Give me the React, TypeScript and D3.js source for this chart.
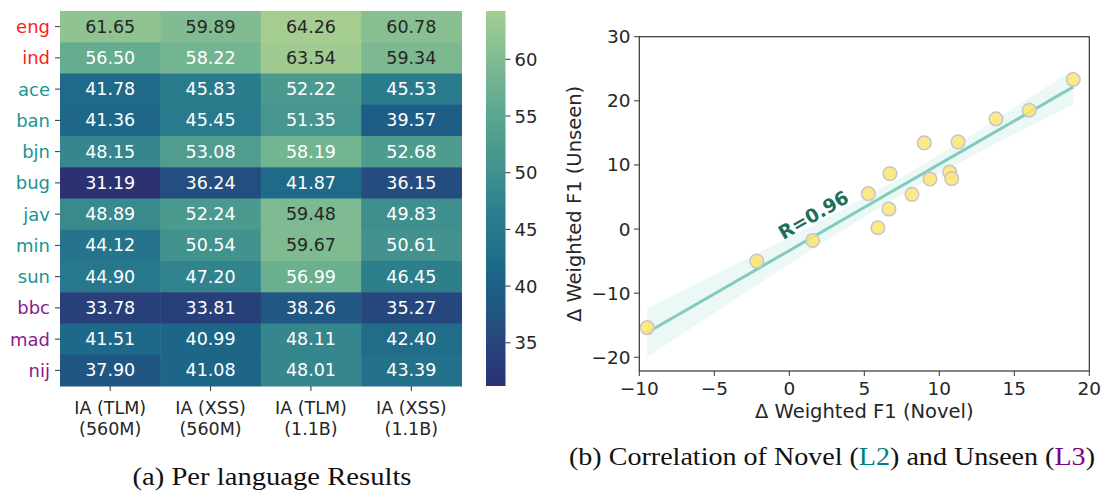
import React from "react";
import * as d3 from "d3";

// ---------- Heatmap data ----------
const LANGS = ["eng", "ind", "ace", "ban", "bjn", "bug", "jav", "min", "sun", "bbc", "mad", "nij"];
const LANG_GROUP = ["L1", "L1", "L2", "L2", "L2", "L2", "L2", "L2", "L2", "L3", "L3", "L3"];
const MODEL_LINE1 = ["IA (TLM)", "IA (XSS)", "IA (TLM)", "IA (XSS)"];
const MODEL_LINE2 = ["(560M)", "(560M)", "(1.1B)", "(1.1B)"];
const TLM_560M = [61.65, 56.5, 41.78, 41.36, 48.15, 31.19, 48.89, 44.12, 44.9, 33.78, 41.51, 37.9];
const XSS_560M = [59.89, 58.22, 45.83, 45.45, 53.08, 36.24, 52.24, 50.54, 47.2, 33.81, 40.99, 41.08];
const TLM_1B = [64.26, 63.54, 52.22, 51.35, 58.19, 41.87, 59.48, 59.67, 56.99, 38.26, 48.11, 48.01];
const XSS_1B = [60.78, 59.34, 45.53, 39.57, 52.68, 36.15, 49.83, 50.61, 46.45, 35.27, 42.4, 43.39];
const CBAR_TICKS = [35, 40, 45, 50, 55, 60];
// seaborn "crest" reversed (low -> high)
const CREST_R = ["#2c3172", "#254b7f", "#1c6488", "#287a8c", "#40908e", "#59a590", "#7dba91", "#a5cd90"];

// ---------- Scatter data ----------
const NOVEL = [18.93, 16.0, 13.78, 9.0, 11.25, 6.71, 10.69, 10.83, 9.38, 5.27, 8.18, 6.64, 5.91, 1.56, -2.17, -9.47];
const UNSEEN = [23.33, 18.53, 17.19, 13.44, 13.6, 8.64, 8.9, 7.86, 7.81, 5.52, 5.41, 3.12, 0.2, -1.78, -5.0, -15.37];
const X_TICKS = [-10, -5, 0, 5, 10, 15, 20];
const Y_TICKS = [-20, -10, 0, 10, 20, 30];
const R_LABEL = "R=0.96";
const R_POS = { x: 1.6, y: 2.25 };

const GROUP_COLOR: Record<string, string> = { L1: "#ff1a1a", L2: "#1a9494", L3: "#8b1a8b" };
const FONT = "DejaVu Sans, sans-serif";

function lum(c: string) {
  const rgb = d3.rgb(c);
  const f = (v: number) => {
    const s = v / 255;
    return s <= 0.03928 ? s / 12.92 : Math.pow((s + 0.055) / 1.055, 2.4);
  };
  return 0.2126 * f(rgb.r) + 0.7152 * f(rgb.g) + 0.0722 * f(rgb.b);
}

export default function App() {
  const columns = [TLM_560M, XSS_560M, TLM_1B, XSS_1B];
  const all = columns.flat();
  const vmin = d3.min(all)!;
  const vmax = d3.max(all)!;

  const hx = d3.scaleBand<number>().domain(d3.range(4)).range([60, 461.5]);
  const hy = d3.scaleBand<string>().domain(LANGS).range([11, 386]);
  const cmap = d3
    .scaleLinear<string>()
    .domain(CREST_R.map((_, i) => vmin + ((vmax - vmin) * i) / (CREST_R.length - 1)))
    .range(CREST_R)
    .interpolate(d3.interpolateRgb);
  const cbY = d3.scaleLinear().domain([vmin, vmax]).range([386, 11]);
  const cbX = 486;
  const cbW = 19.5;

  // scatter
  const sx = d3.scaleLinear().domain([-10, 20]).range([639.3, 1089.3]);
  const sy = d3.scaleLinear().domain([-22.14, 30]).range([371, 36.7]);
  const fmt = d3.format("d");

  const n = NOVEL.length;
  const mx = d3.mean(NOVEL)!;
  const my = d3.mean(UNSEEN)!;
  let sxx = 0, sxy = 0;
  for (let i = 0; i < n; i++) {
    sxx += (NOVEL[i] - mx) ** 2;
    sxy += (NOVEL[i] - mx) * (UNSEEN[i] - my);
  }
  const slope = sxy / sxx;
  const icpt = my - slope * mx;
  let sse = 0;
  for (let i = 0; i < n; i++) sse += (UNSEEN[i] - (icpt + slope * NOVEL[i])) ** 2;
  const s = Math.sqrt(sse / (n - 2));
  const t = 2.145;
  const [x0, x1] = d3.extent(NOVEL) as [number, number];
  const grid = d3.range(0, 101).map((k) => x0 + ((x1 - x0) * k) / 100);
  const band = grid.map((x) => {
    const yh = icpt + slope * x;
    const se = s * Math.sqrt(1 / n + (x - mx) ** 2 / sxx);
    return { x, lo: yh - t * se, hi: yh + t * se };
  });
  const area = d3
    .area<{ x: number; lo: number; hi: number }>()
    .x((d) => sx(d.x))
    .y0((d) => sy(d.lo))
    .y1((d) => sy(d.hi));
  const pxSlope = (sy(icpt + slope * 10) - sy(icpt)) / (sx(10) - sx(0));
  const angle = (Math.atan(pxSlope) * 180) / Math.PI;

  return (
    <svg width={1102} height={491} style={{ position: "absolute", left: 0, top: 0, background: "#fff" }} fontFamily={FONT}>
      <defs>
        <linearGradient id="cb" x1="0" y1="1" x2="0" y2="0">
          {d3.range(0, 41).map((k) => (
            <stop key={k} offset={k / 40} stopColor={cmap(vmin + ((vmax - vmin) * k) / 40)} />
          ))}
        </linearGradient>
      </defs>
      {/* heatmap cells */}
      {columns.map((col, ci) =>
        col.map((v, ri) => {
          const c = cmap(v);
          return (
            <g key={`${ci}-${ri}`}>
              <rect x={hx(ci)!} y={hy(LANGS[ri])!} width={hx.bandwidth() + 0.5} height={hy.bandwidth() + 0.5} fill={c} />
              <text
                x={hx(ci)! + hx.bandwidth() / 2}
                y={hy(LANGS[ri])! + hy.bandwidth() / 2}
                textAnchor="middle"
                dominantBaseline="central"
                fontSize={17.5}
                fill={lum(c) > 0.408 ? "#262626" : "#ffffff"}
              >
                {v.toFixed(2)}
              </text>
            </g>
          );
        })
      )}
      {/* y labels */}
      {LANGS.map((l, i) => (
        <g key={l}>
          <line x1={55} x2={60} y1={hy(l)! + hy.bandwidth() / 2} y2={hy(l)! + hy.bandwidth() / 2} stroke="#333" strokeWidth={1} />
          <text x={50} y={hy(l)! + hy.bandwidth() / 2} textAnchor="end" dominantBaseline="central" fontSize={18} fill={GROUP_COLOR[LANG_GROUP[i]]}>
            {l}
          </text>
        </g>
      ))}
      {/* x labels */}
      {MODEL_LINE1.map((m, i) => {
        const cx = hx(i)! + hx.bandwidth() / 2;
        return (
          <g key={i}>
            <line x1={cx} x2={cx} y1={386} y2={391} stroke="#333" />
            <text x={cx} y={414} textAnchor="middle" fontSize={17.5} fill="#262626">{m}</text>
            <text x={cx} y={434.5} textAnchor="middle" fontSize={17.5} fill="#262626">{MODEL_LINE2[i]}</text>
          </g>
        );
      })}
      {/* colorbar */}
      <rect x={cbX} y={11} width={cbW} height={375} fill="url(#cb)" />
      {CBAR_TICKS.map((tk) => (
        <g key={tk}>
          <line x1={cbX + cbW} x2={cbX + cbW + 5} y1={cbY(tk)} y2={cbY(tk)} stroke="#333" />
          <text x={cbX + cbW + 9} y={cbY(tk)} dominantBaseline="central" fontSize={18} fill="#262626">{tk}</text>
        </g>
      ))}
      {/* caption a */}
      <text x={272} y={485} textAnchor="middle" fontFamily="Liberation Serif, serif" fontSize={26} textLength={279} lengthAdjust="spacingAndGlyphs" fill="#111">
        (a) Per language Results
      </text>

      {/* scatter */}
      <path d={area(band)!} fill="#80cdbb" fillOpacity={0.15} />
      <line x1={sx(x0)} y1={sy(icpt + slope * x0)} x2={sx(x1)} y2={sy(icpt + slope * x1)} stroke="#80cdbb" strokeWidth={3} />
      {NOVEL.map((x, i) => (
        <circle key={i} cx={sx(x)} cy={sy(UNSEEN[i])} r={6.8} fill="#fde66e" fillOpacity={0.85} stroke="#c6c3cf" strokeWidth={1.5} />
      ))}
      <text
        x={sx(R_POS.x)}
        y={sy(R_POS.y)}
        transform={`rotate(${angle} ${sx(R_POS.x)} ${sy(R_POS.y)})`}
        textAnchor="middle"
        dominantBaseline="central"
        fontSize={19}
        fontWeight="bold"
        fill="#1c6e5c"
      >
        {R_LABEL}
      </text>
      <rect x={639.3} y={36.7} width={450} height={334.3} fill="none" stroke="#333" strokeWidth={1.2} />
      {X_TICKS.map((tk) => (
        <g key={tk}>
          <line x1={sx(tk)} x2={sx(tk)} y1={371} y2={376} stroke="#333" />
          <text x={sx(tk)} y={395} textAnchor="middle" fontSize={18.5} fill="#262626">{fmt(tk)}</text>
        </g>
      ))}
      {Y_TICKS.map((tk) => (
        <g key={tk}>
          <line x1={634} x2={639.3} y1={sy(tk)} y2={sy(tk)} stroke="#333" />
          <text x={630.5} y={sy(tk)} textAnchor="end" dominantBaseline="central" fontSize={18.5} fill="#262626">{fmt(tk)}</text>
        </g>
      ))}
      <text x={864.3} y={418} textAnchor="middle" fontSize={19.5} fill="#262626">Δ Weighted F1 (Novel)</text>
      <text transform={`translate(581,204) rotate(-90)`} textAnchor="middle" fontSize={19.5} fill="#262626">Δ Weighted F1 (Unseen)</text>
      {/* caption b */}
      <text x={569} y={465} fontFamily="Liberation Serif, serif" fontSize={26} textLength={526} lengthAdjust="spacingAndGlyphs" fill="#111">
        (b) Correlation of Novel (<tspan fill="#008080">L2</tspan>) and Unseen (<tspan fill="#800080">L3</tspan>)
      </text>
    </svg>
  );
}
